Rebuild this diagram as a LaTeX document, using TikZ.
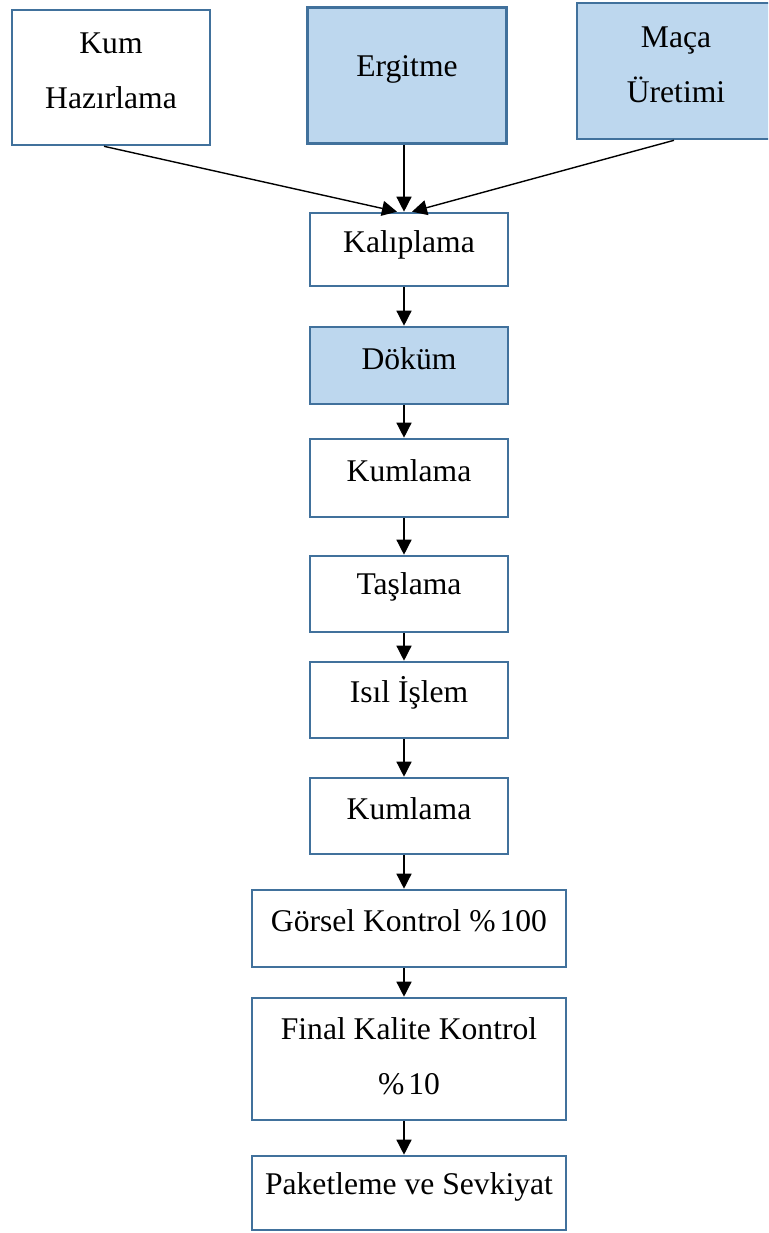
\documentclass[tikz,border=0pt]{standalone}
\usepackage{fontspec}
\setmainfont{Liberation Serif}
\usetikzlibrary{arrows.meta,calc}
\definecolor{edgeblue}{HTML}{41719C}
\definecolor{fillblue}{HTML}{BDD7EE}
\tikzset{
  procbox/.style={draw=edgeblue,line width=2.6pt,rectangle,inner sep=0pt,fill=white},
  bluebox/.style={procbox,fill=fillblue},
  txt/.style={font=\fontsize{31.6}{55}\selectfont,align=center,text=black},
  flow/.style={line width=1.4pt,-{Triangle[length=15pt,width=15pt]}}
}
\begin{document}
\begin{tikzpicture}[x=1pt,y=-1pt]
\clip (0,0) rectangle (768,1233);
\fill[white] (0,0) rectangle (768,1233);
\node[procbox,minimum width=198pt,minimum height=135pt,label={[txt,yshift=7pt]center:Kum\\Hazırlama}] (kum) at (111,77.5) {};
\node[bluebox,minimum width=199pt,minimum height=136pt,label={[txt,yshift=6pt]center:Ergitme}] (erg) at (407,75.5) {};
\node[bluebox,minimum width=198pt,minimum height=136pt,label={[txt,yshift=6pt]center:Maça\\Üretimi}] (maca) at (676,71) {};
\node[procbox,minimum width=198pt,minimum height=73pt,label={[txt,yshift=5pt]center:Kalıplama}] (kal) at (409,249.5) {};
\node[bluebox,minimum width=198pt,minimum height=77pt,label={[txt,yshift=7pt]center:Döküm}] (dok) at (409,365.5) {};
\node[procbox,minimum width=198pt,minimum height=78pt,label={[txt,yshift=7pt]center:Kumlama}] (kuma) at (409,478) {};
\node[procbox,minimum width=198pt,minimum height=76pt,label={[txt,yshift=7pt]center:Taşlama}] (tas) at (409,594) {};
\node[procbox,minimum width=198pt,minimum height=76pt,label={[txt,yshift=7pt]center:Isıl İşlem}] (isil) at (409,700) {};
\node[procbox,minimum width=198pt,minimum height=76pt,label={[txt,yshift=7pt]center:Kumlama}] (kumb) at (409,816) {};
\node[procbox,minimum width=314pt,minimum height=77pt,label={[txt,yshift=8pt]center:Görsel Kontrol \%\kern4pt100}] (gors) at (409,928.5) {};
\node[procbox,minimum width=314pt,minimum height=122pt,label={[txt,yshift=3pt]center:Final Kalite Kontrol\\\%\kern4pt10}] (fin) at (409,1059) {};
\node[procbox,minimum width=314pt,minimum height=74pt,label={[txt,yshift=6pt]center:Paketleme ve Sevkiyat}] (pak) at (409,1193) {};
% connectors
\draw[flow] ($(kum.south)+(-7,0)$) -- ($(kal.north)+(-12,0)$);
\draw[flow] ($(erg.south)+(-3,0)$) -- ($(kal.north)+(-5,0)$);
\draw[flow] ($(maca.south)+(-2,0)$) -- ($(kal.north)+(3,0)$);
\draw[flow] ($(kal.south)+(-5,0)$) -- ($(dok.north)+(-5,0)$);
\draw[flow] ($(dok.south)+(-5,0)$) -- ($(kuma.north)+(-5,0)$);
\draw[flow] ($(kuma.south)+(-5,0)$) -- ($(tas.north)+(-5,0)$);
\draw[flow] ($(tas.south)+(-5,0)$) -- ($(isil.north)+(-5,0)$);
\draw[flow] ($(isil.south)+(-5,0)$) -- ($(kumb.north)+(-5,0)$);
\draw[flow] ($(kumb.south)+(-5,0)$) -- ($(gors.north)+(-5,0)$);
\draw[flow] ($(gors.south)+(-5,0)$) -- ($(fin.north)+(-5,0)$);
\draw[flow] ($(fin.south)+(-5,0)$) -- ($(pak.north)+(-5,0)$);
\end{tikzpicture}
\end{document}
